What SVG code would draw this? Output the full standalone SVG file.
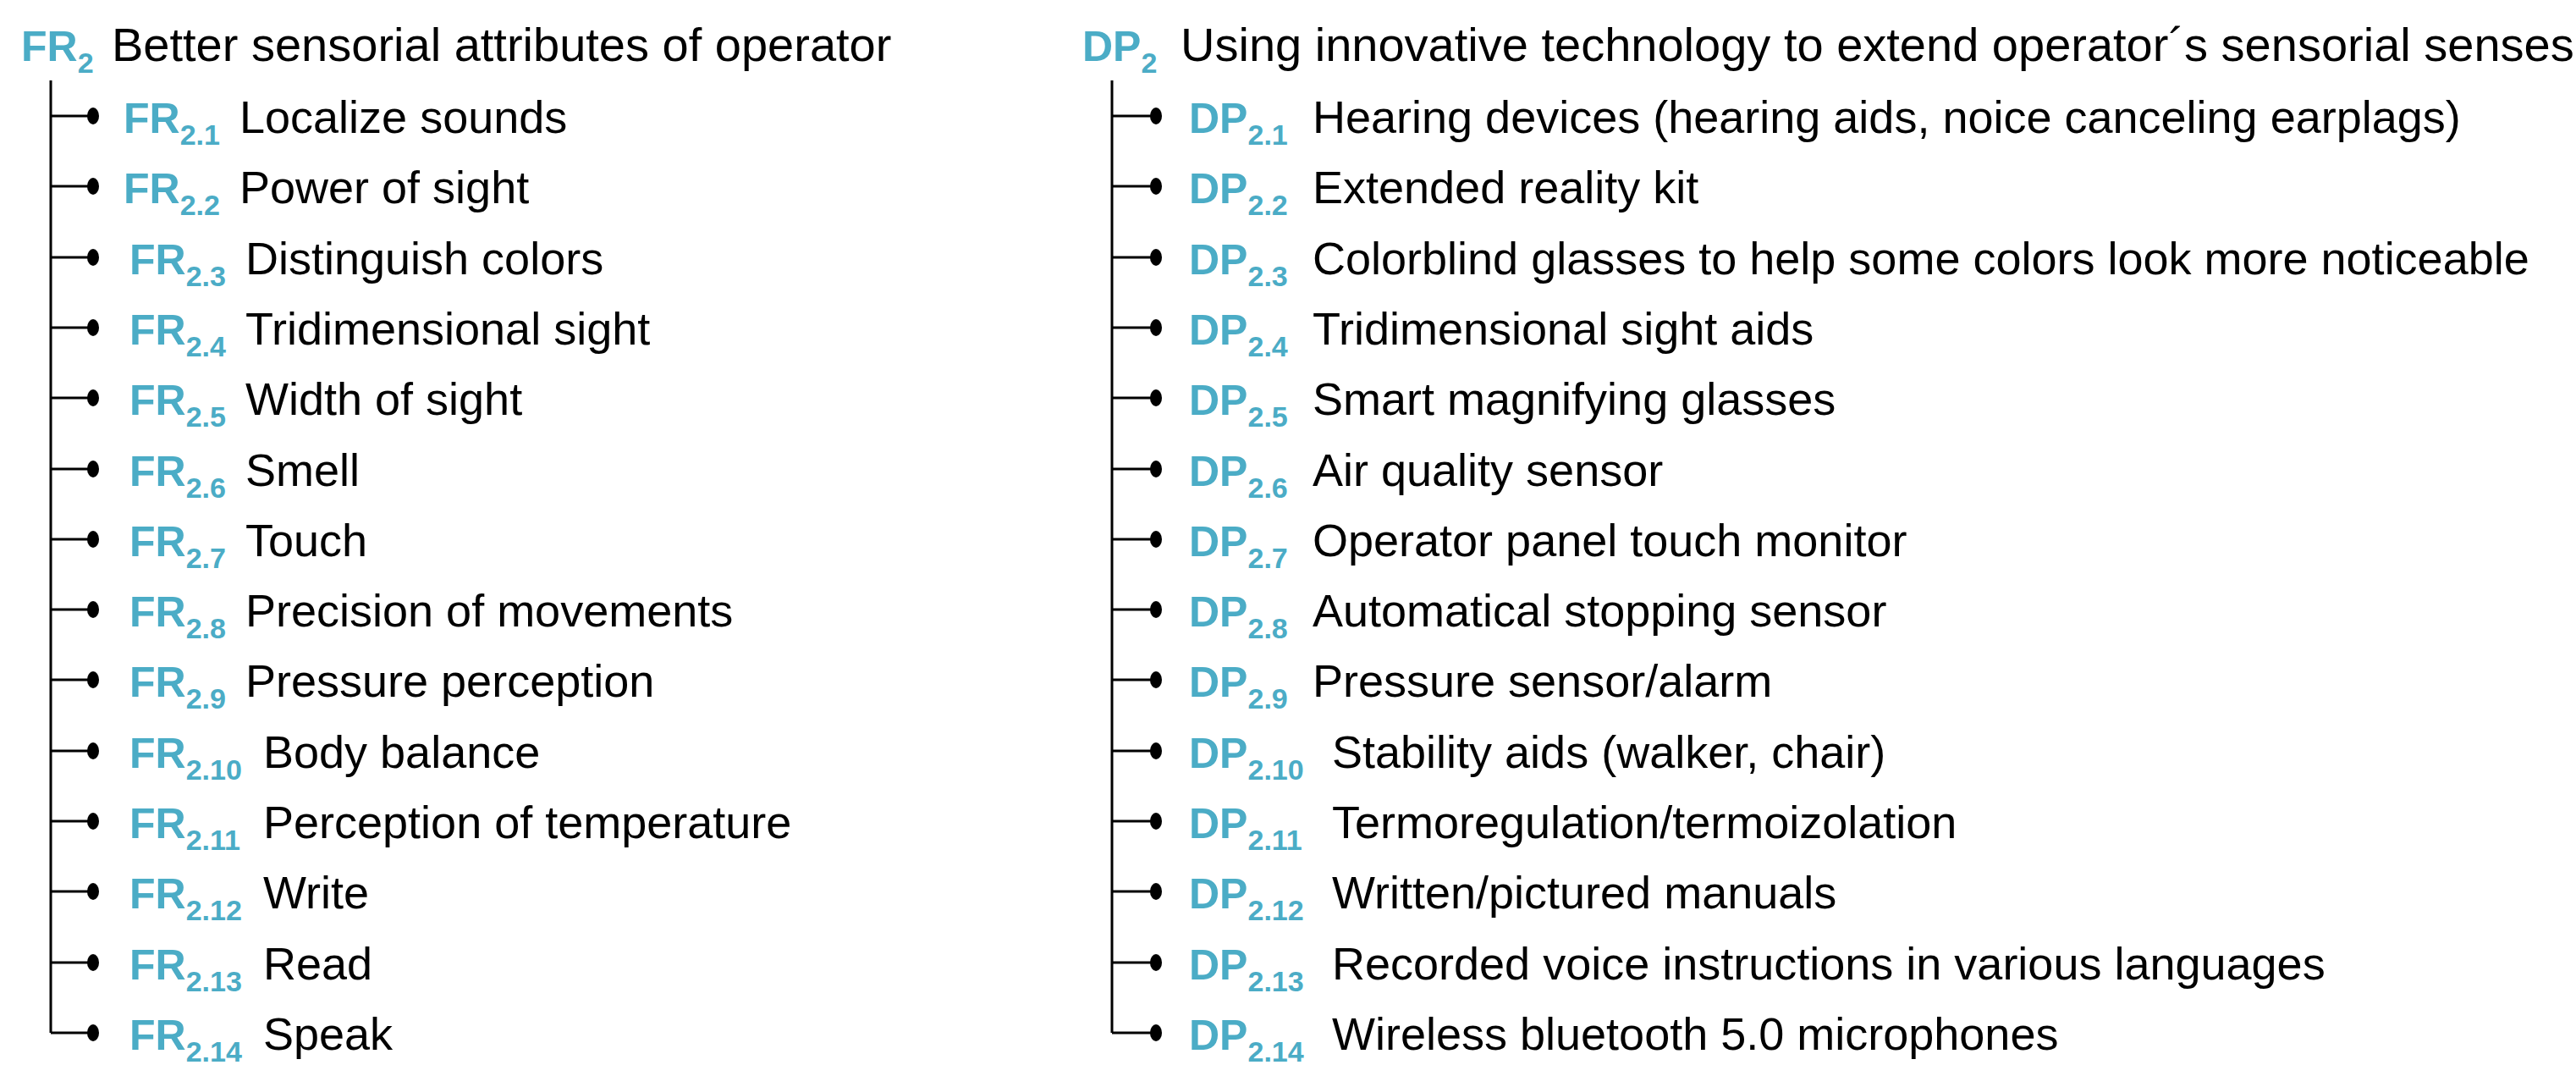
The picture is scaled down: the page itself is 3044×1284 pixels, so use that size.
<svg xmlns="http://www.w3.org/2000/svg" width="3044" height="1284" viewBox="0 0 3044 1284">
<style>
text{font-family:"Liberation Sans",Arial,sans-serif;font-size:50px;fill:#000}
.k{fill:#4BACC6;font-weight:bold}
.s{font-size:34px}
.t{font-size:54px}
.h{font-size:56px}
.c line{stroke:#000;stroke-width:3}
</style>
<defs><ellipse id="d" rx="7" ry="10" fill="#000"/></defs>
<rect width="3044" height="1284" fill="#fff"/>
<g class="c" id="connectors">
<line x1="60" y1="95" x2="60" y2="1220"/>
<line x1="1314" y1="95" x2="1314" y2="1220"/>
<line x1="60" y1="137" x2="105" y2="137"/><line x1="60" y1="220" x2="105" y2="220"/><line x1="60" y1="304" x2="105" y2="304"/><line x1="60" y1="387" x2="105" y2="387"/><line x1="60" y1="470" x2="105" y2="470"/><line x1="60" y1="554" x2="105" y2="554"/><line x1="60" y1="637" x2="105" y2="637"/><line x1="60" y1="720" x2="105" y2="720"/><line x1="60" y1="803" x2="105" y2="803"/><line x1="60" y1="887" x2="105" y2="887"/><line x1="60" y1="970" x2="105" y2="970"/><line x1="60" y1="1053" x2="105" y2="1053"/><line x1="60" y1="1137" x2="105" y2="1137"/><line x1="60" y1="1220" x2="105" y2="1220"/>
<line x1="1314" y1="137" x2="1360" y2="137"/><line x1="1314" y1="220" x2="1360" y2="220"/><line x1="1314" y1="304" x2="1360" y2="304"/><line x1="1314" y1="387" x2="1360" y2="387"/><line x1="1314" y1="470" x2="1360" y2="470"/><line x1="1314" y1="554" x2="1360" y2="554"/><line x1="1314" y1="637" x2="1360" y2="637"/><line x1="1314" y1="720" x2="1360" y2="720"/><line x1="1314" y1="803" x2="1360" y2="803"/><line x1="1314" y1="887" x2="1360" y2="887"/><line x1="1314" y1="970" x2="1360" y2="970"/><line x1="1314" y1="1053" x2="1360" y2="1053"/><line x1="1314" y1="1137" x2="1360" y2="1137"/><line x1="1314" y1="1220" x2="1360" y2="1220"/>
<use href="#d" x="110" y="137"/><use href="#d" x="110" y="220"/><use href="#d" x="110" y="304"/><use href="#d" x="110" y="387"/><use href="#d" x="110" y="470"/><use href="#d" x="110" y="554"/><use href="#d" x="110" y="637"/><use href="#d" x="110" y="720"/><use href="#d" x="110" y="803"/><use href="#d" x="110" y="887"/><use href="#d" x="110" y="970"/><use href="#d" x="110" y="1053"/><use href="#d" x="110" y="1137"/><use href="#d" x="110" y="1220"/>
<use href="#d" x="1366" y="137"/><use href="#d" x="1366" y="220"/><use href="#d" x="1366" y="304"/><use href="#d" x="1366" y="387"/><use href="#d" x="1366" y="470"/><use href="#d" x="1366" y="554"/><use href="#d" x="1366" y="637"/><use href="#d" x="1366" y="720"/><use href="#d" x="1366" y="803"/><use href="#d" x="1366" y="887"/><use href="#d" x="1366" y="970"/><use href="#d" x="1366" y="1053"/><use href="#d" x="1366" y="1137"/><use href="#d" x="1366" y="1220"/>
</g>
<g id="fr2"><text x="25" y="72"><tspan class="k">FR</tspan><tspan class="k s" dy="14">2</tspan><tspan class="h" dy="-14" x="132">Better sensorial attributes of operator</tspan></text></g>
<g id="dp2"><text x="1279" y="72"><tspan class="k">DP</tspan><tspan class="k s" dy="14">2</tspan><tspan class="h" dy="-14" x="1395">Using innovative technology to extend operator´s sensorial senses</tspan></text></g>
<g id="fr-items">
<g id="fr2_1"><text x="146" y="157"><tspan class="k">FR</tspan><tspan class="k s" dy="14">2.1</tspan><tspan class="t" dy="-14" x="283">Localize sounds</tspan></text></g>
<g id="fr2_2"><text x="146" y="240"><tspan class="k">FR</tspan><tspan class="k s" dy="14">2.2</tspan><tspan class="t" dy="-14" x="283">Power of sight</tspan></text></g>
<g id="fr2_3"><text x="153" y="324"><tspan class="k">FR</tspan><tspan class="k s" dy="14">2.3</tspan><tspan class="t" dy="-14" x="290">Distinguish colors</tspan></text></g>
<g id="fr2_4"><text x="153" y="407"><tspan class="k">FR</tspan><tspan class="k s" dy="14">2.4</tspan><tspan class="t" dy="-14" x="290">Tridimensional sight</tspan></text></g>
<g id="fr2_5"><text x="153" y="490"><tspan class="k">FR</tspan><tspan class="k s" dy="14">2.5</tspan><tspan class="t" dy="-14" x="290">Width of sight</tspan></text></g>
<g id="fr2_6"><text x="153" y="574"><tspan class="k">FR</tspan><tspan class="k s" dy="14">2.6</tspan><tspan class="t" dy="-14" x="290">Smell</tspan></text></g>
<g id="fr2_7"><text x="153" y="657"><tspan class="k">FR</tspan><tspan class="k s" dy="14">2.7</tspan><tspan class="t" dy="-14" x="290">Touch</tspan></text></g>
<g id="fr2_8"><text x="153" y="740"><tspan class="k">FR</tspan><tspan class="k s" dy="14">2.8</tspan><tspan class="t" dy="-14" x="290">Precision of movements</tspan></text></g>
<g id="fr2_9"><text x="153" y="823"><tspan class="k">FR</tspan><tspan class="k s" dy="14">2.9</tspan><tspan class="t" dy="-14" x="290">Pressure perception</tspan></text></g>
<g id="fr2_10"><text x="153" y="907"><tspan class="k">FR</tspan><tspan class="k s" dy="14">2.10</tspan><tspan class="t" dy="-14" x="311">Body balance</tspan></text></g>
<g id="fr2_11"><text x="153" y="990"><tspan class="k">FR</tspan><tspan class="k s" dy="14">2.11</tspan><tspan class="t" dy="-14" x="311">Perception of temperature</tspan></text></g>
<g id="fr2_12"><text x="153" y="1073"><tspan class="k">FR</tspan><tspan class="k s" dy="14">2.12</tspan><tspan class="t" dy="-14" x="311">Write</tspan></text></g>
<g id="fr2_13"><text x="153" y="1157"><tspan class="k">FR</tspan><tspan class="k s" dy="14">2.13</tspan><tspan class="t" dy="-14" x="311">Read</tspan></text></g>
<g id="fr2_14"><text x="153" y="1240"><tspan class="k">FR</tspan><tspan class="k s" dy="14">2.14</tspan><tspan class="t" dy="-14" x="311">Speak</tspan></text></g>
</g>
<g id="dp-items">
<g id="dp2_1"><text x="1405" y="157"><tspan class="k">DP</tspan><tspan class="k s" dy="14">2.1</tspan><tspan class="t" dy="-14" x="1551">Hearing devices (hearing aids, noice canceling earplags)</tspan></text></g>
<g id="dp2_2"><text x="1405" y="240"><tspan class="k">DP</tspan><tspan class="k s" dy="14">2.2</tspan><tspan class="t" dy="-14" x="1551">Extended reality kit</tspan></text></g>
<g id="dp2_3"><text x="1405" y="324"><tspan class="k">DP</tspan><tspan class="k s" dy="14">2.3</tspan><tspan class="t" dy="-14" x="1551">Colorblind glasses to help some colors look more noticeable</tspan></text></g>
<g id="dp2_4"><text x="1405" y="407"><tspan class="k">DP</tspan><tspan class="k s" dy="14">2.4</tspan><tspan class="t" dy="-14" x="1551">Tridimensional sight aids</tspan></text></g>
<g id="dp2_5"><text x="1405" y="490"><tspan class="k">DP</tspan><tspan class="k s" dy="14">2.5</tspan><tspan class="t" dy="-14" x="1551">Smart magnifying glasses</tspan></text></g>
<g id="dp2_6"><text x="1405" y="574"><tspan class="k">DP</tspan><tspan class="k s" dy="14">2.6</tspan><tspan class="t" dy="-14" x="1551">Air quality sensor</tspan></text></g>
<g id="dp2_7"><text x="1405" y="657"><tspan class="k">DP</tspan><tspan class="k s" dy="14">2.7</tspan><tspan class="t" dy="-14" x="1551">Operator panel touch monitor</tspan></text></g>
<g id="dp2_8"><text x="1405" y="740"><tspan class="k">DP</tspan><tspan class="k s" dy="14">2.8</tspan><tspan class="t" dy="-14" x="1551">Automatical stopping sensor</tspan></text></g>
<g id="dp2_9"><text x="1405" y="823"><tspan class="k">DP</tspan><tspan class="k s" dy="14">2.9</tspan><tspan class="t" dy="-14" x="1551">Pressure sensor/alarm</tspan></text></g>
<g id="dp2_10"><text x="1405" y="907"><tspan class="k">DP</tspan><tspan class="k s" dy="14">2.10</tspan><tspan class="t" dy="-14" x="1574">Stability aids (walker, chair)</tspan></text></g>
<g id="dp2_11"><text x="1405" y="990"><tspan class="k">DP</tspan><tspan class="k s" dy="14">2.11</tspan><tspan class="t" dy="-14" x="1574">Termoregulation/termoizolation</tspan></text></g>
<g id="dp2_12"><text x="1405" y="1073"><tspan class="k">DP</tspan><tspan class="k s" dy="14">2.12</tspan><tspan class="t" dy="-14" x="1574">Written/pictured manuals</tspan></text></g>
<g id="dp2_13"><text x="1405" y="1157"><tspan class="k">DP</tspan><tspan class="k s" dy="14">2.13</tspan><tspan class="t" dy="-14" x="1574">Recorded voice instructions in various languages</tspan></text></g>
<g id="dp2_14"><text x="1405" y="1240"><tspan class="k">DP</tspan><tspan class="k s" dy="14">2.14</tspan><tspan class="t" dy="-14" x="1574">Wireless bluetooth 5.0 microphones</tspan></text></g>
</g>
</svg>
